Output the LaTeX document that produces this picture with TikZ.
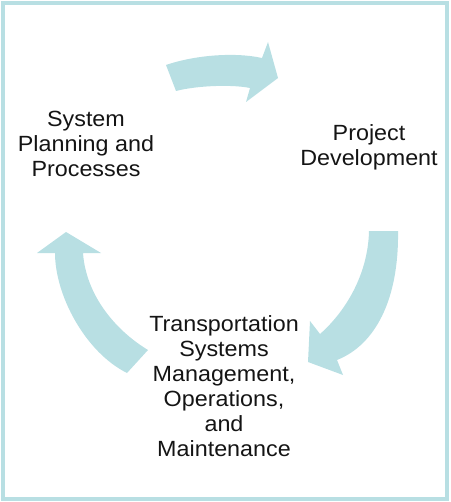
\documentclass[tikz,border=0pt]{standalone}
\usepackage{fontspec}
\setmainfont{Liberation Sans}
\definecolor{cyclecol}{RGB}{184,223,227}
\definecolor{txtcol}{RGB}{20,20,20}
\begin{document}
\begin{tikzpicture}[x=1pt,y=-1pt,
  lbl/.style={align=center, text=txtcol, inner sep=0pt,
    font=\fontsize{22}{25}\selectfont, xscale=1.06},
  cyc/.style={fill=cyclecol, draw=none}]
\useasboundingbox (0,0) rectangle (450,502);
\draw[cyclecol, line width=4pt] (3,3) rectangle (447,499);
% top arrow
\fill[cyc] (166,65) .. controls (195,55) and (235,52) .. (262,58)
  -- (268,42) -- (278,78) -- (246,102) -- (250,88)
  .. controls (230,84) and (195,86) .. (176,91) -- cycle;
% right arrow
\fill[cyc] (369,231) -- (398,231) .. controls (399,300) and (375,345) .. (337,360)
  -- (343,375) -- (308,362) -- (310,321) -- (320,334)
  .. controls (345,312) and (368,275) .. cycle;
% left arrow
\fill[cyc] (66,232) -- (101,253) -- (83,253)
  .. controls (86,295) and (115,330) .. (148,350)
  -- (127,373) .. controls (85,352) and (55,295) .. (55,253)
  -- (37,253) -- cycle;
% labels: base anchor = baseline of the last line
\node[lbl, anchor=base] (plan) at (86,176.7) {System\\Planning and\\Processes};
\node[lbl, anchor=base] (proj) at (369,165.5) {Project\\Development};
\node[lbl, anchor=base] (tsmo) at (224,456.7) {Transportation\\Systems\\Management,\\Operations,\\and\\Maintenance};
\end{tikzpicture}
\end{document}
